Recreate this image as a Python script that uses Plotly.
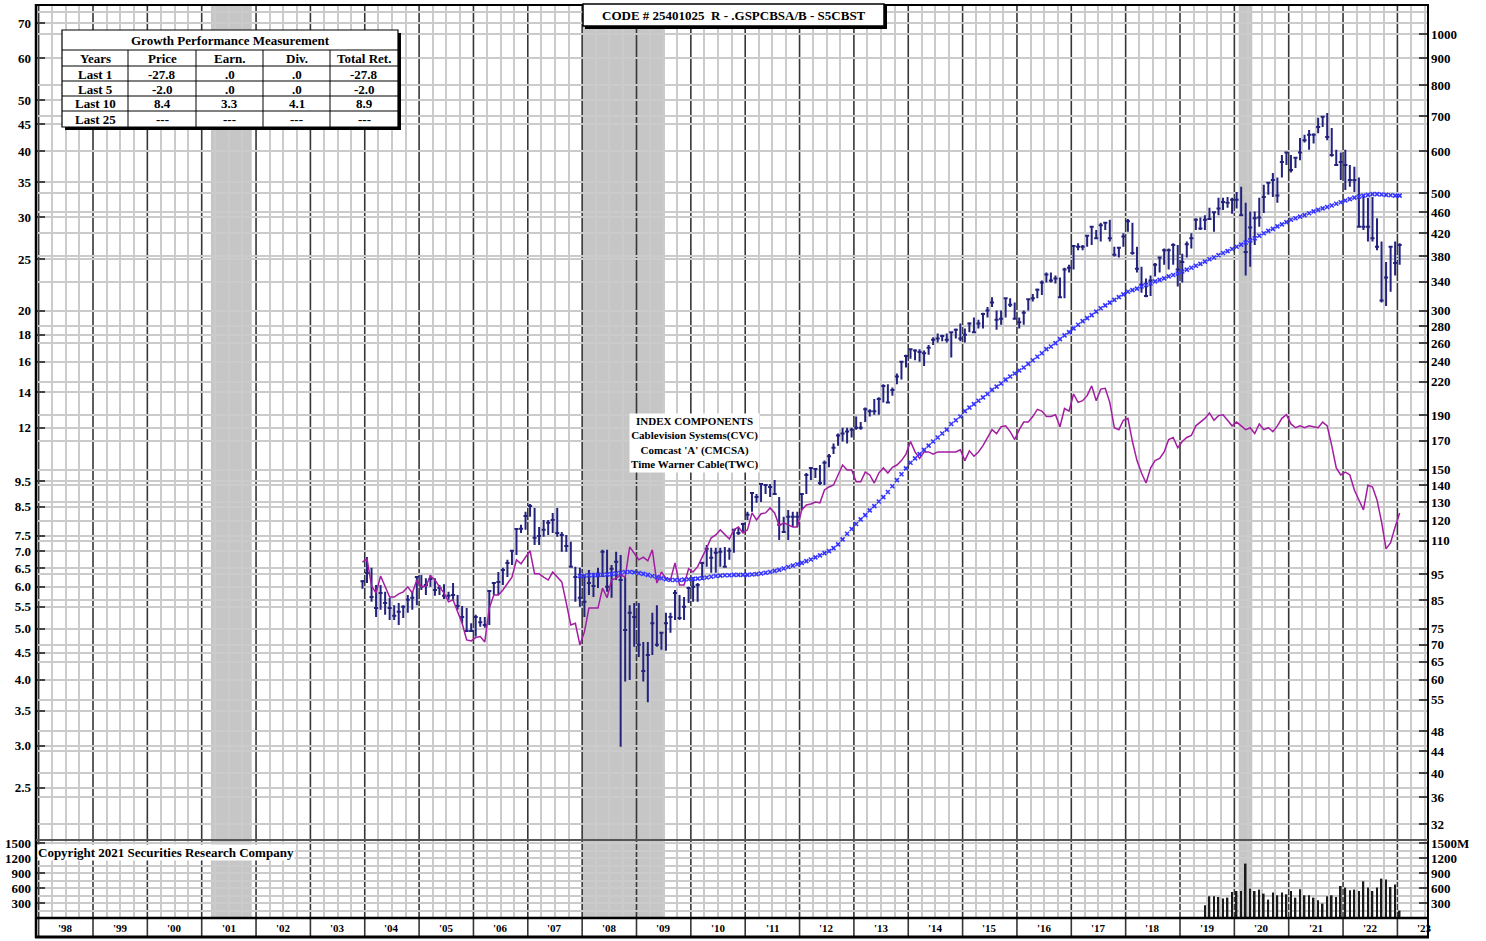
import math
import plotly.graph_objects as go

# ---------------- data ----------------
FIRST_YEAR, FIRST_MONTH = 2003, 12          # first monthly price bar (Dec 2003)

price_high = [
    6.18,
    6.83, 6.52, 6.05, 6.05, 5.87, 5.72, 5.54, 5.59, 5.54, 5.79, 5.87, 6.26,
    6.32, 6.23, 6.32, 6.23, 6.05, 6.07, 5.87, 6.10, 5.79, 5.52, 5.47, 5.12,
    5.31, 5.26, 5.26, 5.92, 6.13, 6.40, 6.52, 6.75, 7.05, 7.73, 7.86, 8.32,
    8.61, 8.46, 7.79, 8.03, 8.03, 8.28, 8.46, 7.62, 7.52, 7.30, 6.55, 6.52,
    6.32, 6.46, 6.38, 6.52, 7.05, 7.05, 6.60, 6.99, 6.89, 6.26, 5.54, 5.59,
    5.59, 4.72, 4.72, 5.36, 5.54, 4.93, 5.36, 5.36, 5.92, 5.79, 5.74, 6.00,
    6.26, 6.10, 6.69, 7.20, 7.11, 7.11, 7.11, 7.14, 7.11, 7.69, 7.76, 7.93,
    8.32, 9.03, 8.99, 9.39, 9.39, 9.39, 9.56, 8.87, 8.14, 8.39, 8.32, 8.32,
    8.99, 9.85, 10.07, 10.07, 10.2, 10.4, 10.7, 11.2, 11.7, 12.0, 12.0, 12.0,
    12.6, 12.3, 13.1, 13.0, 13.6, 13.7, 14.5, 14.5, 14.3, 15.2, 16.0, 16.5,
    16.9, 16.9, 16.9, 16.8, 17.2, 17.8, 18.1, 18.0, 18.1, 18.2, 18.5, 18.9,
    18.5, 19.0, 19.4, 19.2, 19.8, 20.3, 21.2, 20.0, 20.0, 21.1, 21.1, 20.7,
    19.4, 20.0, 21.1, 21.5, 22.0, 22.8, 23.6, 23.6, 23.3, 23.1, 24.1, 24.4,
    26.6, 26.8, 26.6, 27.8, 28.8, 28.4, 29.3, 29.4, 29.7, 26.4, 26.4, 28.0,
    29.8, 29.3, 26.4, 24.2, 23.0, 23.3, 24.6, 25.2, 26.2, 26.2, 26.8, 26.6,
    25.6, 27.0, 28.0, 29.9, 30.0, 30.3, 31.3, 30.7, 32.7, 32.7, 32.8, 32.7,
    33.5, 34.3, 32.0, 30.8, 30.8, 32.7, 34.6, 35.0, 36.4, 35.7, 39.4, 40.0,
    39.4, 39.1, 42.4, 43.0, 43.9, 43.3, 46.3, 46.7, 47.3, 44.3, 40.3, 39.8,
    40.3, 37.7, 37.4, 35.7, 32.8, 32.7, 32.8, 29.9, 27.0, 24.7, 26.4, 27.0,
    26.8,
]
price_low = [
    5.95,
    6.10, 5.62, 5.26, 5.43, 5.31, 5.19, 5.19, 5.08, 5.24, 5.36, 5.43, 5.54,
    5.92, 5.79, 6.00, 5.77, 5.79, 5.69, 5.67, 5.67, 5.43, 5.12, 4.93, 4.93,
    4.83, 5.04, 5.02, 5.08, 5.79, 5.79, 6.05, 6.26, 6.60, 6.89, 7.59, 7.69,
    8.14, 7.20, 7.20, 7.46, 7.52, 7.59, 7.46, 6.99, 6.99, 6.55, 5.62, 5.50,
    5.26, 5.79, 5.74, 5.97, 6.26, 5.87, 5.72, 6.18, 2.99, 3.97, 4.00, 4.62,
    4.42, 3.97, 3.63, 4.46, 4.62, 4.56, 4.54, 4.91, 5.19, 5.19, 5.19, 5.59,
    5.62, 5.62, 6.18, 6.55, 6.38, 6.38, 6.55, 6.52, 6.75, 6.96, 7.52, 7.59,
    8.03, 8.32, 8.65, 8.68, 8.99, 8.87, 8.99, 7.36, 7.59, 7.36, 7.79, 7.79,
    8.39, 8.99, 9.56, 9.64, 9.35, 9.35, 10.1, 10.7, 11.1, 11.3, 11.2, 11.5,
    11.9, 11.9, 12.3, 12.6, 12.7, 12.7, 13.4, 13.4, 13.8, 14.5, 14.8, 15.6,
    16.2, 16.1, 16.0, 15.7, 16.5, 17.2, 17.4, 17.5, 17.4, 16.3, 17.7, 17.5,
    17.4, 18.2, 18.2, 18.5, 18.5, 19.4, 20.3, 18.4, 18.8, 19.4, 20.3, 19.2,
    18.5, 18.8, 20.0, 20.8, 21.1, 21.4, 22.6, 22.6, 22.5, 21.2, 21.1, 23.6,
    23.9, 26.0, 26.0, 26.4, 26.6, 27.4, 27.0, 28.4, 27.0, 25.3, 25.2, 26.4,
    28.2, 25.5, 23.6, 21.6, 21.2, 21.3, 23.2, 23.6, 24.4, 23.9, 24.4, 22.2,
    22.6, 25.2, 26.2, 28.4, 28.4, 28.4, 29.7, 28.2, 30.3, 31.0, 31.3, 30.5,
    31.2, 30.3, 23.3, 24.2, 26.6, 28.8, 30.6, 33.1, 32.8, 32.0, 35.7, 37.7,
    36.5, 37.2, 38.5, 41.6, 40.3, 41.4, 43.3, 44.5, 42.0, 39.1, 37.7, 35.3,
    33.8, 34.3, 33.5, 28.8, 28.4, 27.0, 27.0, 26.0, 20.7, 20.4, 21.7, 23.3,
    24.4,
]
price_close = [
    6.15,
    6.37, 5.74, 5.47, 5.84, 5.59, 5.47, 5.29, 5.38, 5.50, 5.67, 5.72, 6.26,
    6.00, 6.05, 6.21, 5.92, 5.97, 5.77, 5.77, 5.79, 5.52, 5.26, 4.95, 4.95,
    5.26, 5.14, 5.08, 5.89, 6.10, 6.13, 6.46, 6.66, 7.02, 7.72, 7.73, 8.17,
    8.53, 7.43, 7.49, 7.69, 7.93, 8.03, 7.59, 7.52, 7.17, 6.55, 6.26, 5.72,
    5.62, 6.10, 6.02, 6.32, 6.99, 6.00, 6.49, 6.69, 6.18, 4.97, 5.36, 5.26,
    4.66, 4.16, 4.46, 5.12, 4.66, 4.91, 5.12, 5.26, 5.84, 5.24, 5.50, 5.97,
    6.00, 6.05, 6.66, 7.08, 6.81, 6.96, 6.99, 6.55, 7.02, 7.69, 7.59, 7.89,
    8.21, 9.03, 8.87, 9.39, 9.35, 9.27, 8.99, 7.86, 7.62, 8.14, 8.14, 8.14,
    8.99, 9.77, 10.07, 10.03, 9.43, 10.3, 10.6, 11.0, 11.6, 11.7, 11.8, 11.9,
    12.0, 12.0, 13.0, 12.9, 12.9, 13.6, 14.4, 13.4, 14.15, 15.0, 16.0, 16.4,
    16.9, 16.8, 16.7, 16.6, 17.0, 17.6, 17.7, 17.9, 17.6, 18.2, 18.4, 17.7,
    18.0, 18.9, 18.2, 18.9, 19.7, 20.0, 20.7, 19.2, 19.3, 21.1, 20.5, 19.3,
    19.0, 19.8, 21.0, 21.1, 21.9, 22.6, 23.4, 22.8, 23.0, 21.2, 23.9, 24.1,
    26.5, 26.4, 26.4, 27.7, 28.8, 27.4, 29.0, 29.3, 27.4, 25.5, 26.3, 27.6,
    29.5, 25.7, 24.0, 22.4, 21.3, 22.8, 24.4, 25.2, 26.0, 26.0, 26.6, 23.9,
    24.7, 26.7, 27.4, 29.7, 28.6, 29.7, 29.8, 30.7, 31.2, 32.1, 32.0, 32.4,
    32.4, 30.3, 25.8, 28.7, 29.9, 30.0, 32.8, 34.9, 35.3, 33.0, 38.2, 39.8,
    36.9, 38.9, 39.8, 42.0, 43.0, 43.0, 44.5, 46.5, 42.6, 39.4, 37.7, 38.2,
    37.7, 35.3, 35.3, 28.8, 28.8, 28.8, 27.4, 26.4, 20.9, 23.1, 26.4, 24.6,
    26.6,
]
# relative-strength line (magenta), same months as the price bars
rel_strength = [
    6.68,
    6.78, 6.02, 5.84, 6.29, 6.00, 5.74, 5.74, 5.82, 5.87, 6.00, 5.84, 6.18,
    6.00, 6.02, 6.29, 6.18, 6.00, 5.84, 5.62, 5.67, 5.38, 5.12, 4.76, 4.74,
    4.81, 4.83, 4.72, 5.47, 5.79, 5.79, 5.92, 6.10, 6.26, 6.75, 6.63, 6.83,
    7.02, 6.35, 6.35, 6.26, 6.18, 6.40, 6.26, 6.13, 5.59, 5.08, 5.12, 4.66,
    4.93, 5.47, 5.47, 5.47, 5.97, 5.72, 6.18, 6.23, 6.32, 6.26, 7.14, 6.96,
    6.75, 6.83, 6.72, 7.05, 6.10, 6.40, 6.23, 6.18, 6.66, 6.05, 6.05, 6.49,
    6.40, 6.55, 6.81, 7.11, 7.43, 7.52, 7.69, 7.52, 7.39, 7.69, 7.79, 7.59,
    7.69, 8.28, 8.03, 8.25, 8.28, 8.46, 8.28, 7.83, 7.93, 7.86, 7.79, 7.79,
    8.39, 8.57, 8.61, 8.68, 8.65, 9.15, 9.27, 9.35, 9.77, 10.2, 9.98, 9.98,
    9.48, 9.48, 9.89, 9.77, 9.43, 9.85, 10.07, 9.85, 10.1, 10.2, 10.4, 10.7,
    11.3, 10.8, 10.5, 10.8, 10.8, 10.7, 10.8, 10.8, 10.8, 10.8, 10.8, 10.9,
    10.4, 10.85, 10.6, 10.8, 11.1, 11.5, 11.9, 11.7, 12.05, 12.1, 11.8, 11.4,
    11.9, 12.3, 12.3, 12.6, 13.0, 12.9, 12.6, 12.6, 12.7, 12.05, 13.05, 12.9,
    13.9, 13.4, 13.5, 13.8, 14.4, 13.5, 14.2, 14.25, 13.4, 12.0, 11.9, 12.4,
    12.5, 11.3, 10.4, 9.85, 9.43, 10.07, 10.4, 10.5, 10.8, 11.4, 11.5, 11.0,
    11.3, 11.5, 11.6, 12.1, 12.3, 12.5, 12.8, 12.4, 12.65, 12.7, 12.4, 12.1,
    12.3, 12.1, 11.9, 12.0, 11.7, 12.2, 11.9, 12.0, 11.8, 12.1, 12.5, 12.7,
    12.2, 12.0, 12.1, 12.0, 12.1, 12.05, 12.0, 12.3, 12.1, 11.1, 10.07, 9.77,
    9.89, 9.77, 9.15, 8.76, 8.39, 9.35, 9.27, 8.76, 7.96, 7.08, 7.27, 7.79,
    8.28,
]

MA_YEAR, MA_MONTH = 2007, 12                 # first moving-average point
moving_avg = [
    6.29,
    6.30, 6.31, 6.31, 6.32, 6.32, 6.33, 6.34, 6.36, 6.38, 6.40, 6.40, 6.39,
    6.37, 6.35, 6.32, 6.29, 6.26, 6.23, 6.20, 6.18, 6.18, 6.18, 6.19, 6.20,
    6.21, 6.22, 6.23, 6.25, 6.27, 6.29, 6.30, 6.31, 6.31, 6.32, 6.32, 6.32,
    6.32, 6.33, 6.34, 6.36, 6.38, 6.40, 6.43, 6.46, 6.50, 6.54, 6.58, 6.62,
    6.66, 6.71, 6.76, 6.82, 6.88, 6.95, 7.01, 7.10, 7.22, 7.38, 7.56, 7.72,
    7.89, 8.05, 8.20, 8.37, 8.53, 8.70, 8.87, 9.07, 9.30, 9.55, 9.80, 10.05,
    10.3, 10.5, 10.7, 10.9, 11.1, 11.3, 11.5, 11.7, 11.9, 12.2, 12.4, 12.6,
    12.9, 13.1, 13.3, 13.5, 13.7, 13.9, 14.15, 14.35, 14.55, 14.8, 15.0, 15.2,
    15.4, 15.6, 15.85, 16.1, 16.35, 16.6, 16.9, 17.1, 17.35, 17.65, 17.95, 18.2,
    18.5, 18.8, 19.1, 19.35, 19.6, 19.9, 20.2, 20.45, 20.7, 20.95, 21.2, 21.45,
    21.7, 21.85, 22.0, 22.2, 22.35, 22.5, 22.7, 22.85, 23.0, 23.2, 23.35, 23.5,
    23.7, 23.9, 24.1, 24.3, 24.5, 24.75, 25.0, 25.2, 25.45, 25.7, 25.9, 26.15,
    26.4, 26.65, 26.9, 27.15, 27.4, 27.7, 28.0, 28.3, 28.55, 28.85, 29.1, 29.4,
    29.7, 29.9, 30.1, 30.3, 30.55, 30.8, 31.0, 31.2, 31.4, 31.6, 31.85, 32.05,
    32.3, 32.5, 32.7, 32.85, 33.0, 33.1, 33.2, 33.2, 33.15, 33.1, 33.05, 33.0,
    33.0,
]

VOL_YEAR, VOL_MONTH = 2019, 6                # first volume bar
volume_m = [
    254, 434, 434, 420, 388, 408, 520,
    540, 540, 1088, 588, 540, 568, 488, 368, 508, 454, 508, 474,
    540, 408, 574, 454, 454, 408, 354, 288, 434, 454, 420, 640,
    608, 554, 568, 540, 734, 608, 540, 608, 788, 768, 620, 668,
    148,
]

recessions = [(2001.17, 2001.92), (2008.0, 2009.5), (2020.08, 2020.33)]
label_years = list(range(1998, 2024))

left_ticks = [2.5, 3.0, 3.5, 4.0, 4.5, 5.0, 5.5, 6.0, 6.5, 7.0, 7.5, 8.5, 9.5,
              12, 14, 16, 18, 20, 25, 30, 35, 40, 45, 50, 60, 70]
right_ticks = [32, 36, 40, 44, 48, 55, 60, 65, 70, 75, 85, 95, 110, 120, 130,
               140, 150, 170, 190, 220, 240, 260, 280, 300, 340, 380, 420, 460,
               500, 600, 700, 800, 900, 1000]
RIGHT_FACTOR = 15
extra_grid_right = [1100]
vol_ticks = [300, 600, 900, 1200, 1500]

table_title = "Growth Performance Measurement"
table_header = ["Years", "Price", "Earn.", "Div.", "Total Ret."]
table_rows = [
    ["Last 1", "-27.8", ".0", ".0", "-27.8"],
    ["Last 5", "-2.0", ".0", ".0", "-2.0"],
    ["Last 10", "8.4", "3.3", "4.1", "8.9"],
    ["Last 25", "---", "---", "---", "---"],
]
chart_title = "CODE # 25401025  R - .GSPCBSA/B - S5CBST"
components = ["INDEX COMPONENTS", "Cablevision Systems(CVC)",
              "Comcast 'A' (CMCSA)", "Time Warner Cable(TWC)"]
copyright_text = "Copyright 2021 Securities Research Company"

# ---------------- helpers ----------------
def month_positions(y0, m0, n):
    out = []
    y, m = y0, m0
    for _ in range(n):
        out.append(y + (m - 0.5) / 12.0)
        m += 1
        if m > 12:
            m = 1
            y += 1
    return out

W, H = 1486, 941
ML, MR, MT, MB = 36, 58, 5, 4
PW, PH = W - ML - MR, H - MT - MB

def fx(px):
    return (px - ML) / PW

def fy(py):
    return (H - MB - py) / PH

X0 = 1999 - 57 / 54.35
X1 = 1999 + 1335 / 54.35
price_dom = [fy(840), 1.0]
vol_dom = [fy(918), fy(840)]
LOG_LO, LOG_HI = 0.2991, 1.8791
R_OFF = math.log10(RIGHT_FACTOR)

FONT = "Liberation Serif"
NAVY = "#23237f"
MAGENTA = "#a31ca3"
BLUE = "#3535ff"
GRID = "#cbcbcb"

def fmt_left(v):
    return str(int(v)) if v >= 10 else f"{v:.1f}"

# ---------------- traces ----------------
px_x = month_positions(FIRST_YEAR, FIRST_MONTH, len(price_close))
ma_x = month_positions(MA_YEAR, MA_MONTH, len(moving_avg))
vol_x = month_positions(VOL_YEAR, VOL_MONTH, len(volume_m))

fig = go.Figure()
fig.add_trace(go.Scatter(x=px_x, y=rel_strength, mode="lines",
                         line=dict(color=MAGENTA, width=1.5),
                         xaxis="x", yaxis="y", hoverinfo="skip"))
fig.add_trace(go.Scatter(x=ma_x, y=moving_avg, mode="markers",
                         marker=dict(symbol="x-thin", size=4,
                                     line=dict(color=BLUE, width=1.6)),
                         xaxis="x", yaxis="y", hoverinfo="skip"))
fig.add_trace(go.Ohlc(x=px_x, open=price_close, high=price_high,
                      low=price_low, close=price_close, tickwidth=0.45,
                      increasing=dict(line=dict(color=NAVY, width=2)),
                      decreasing=dict(line=dict(color=NAVY, width=2)),
                      xaxis="x", yaxis="y", hoverinfo="skip"))
fig.add_trace(go.Bar(x=vol_x, y=volume_m, width=0.03,
                     marker=dict(color="#1a1a1a", line=dict(width=0)),
                     xaxis="x", yaxis="y2", hoverinfo="skip"))
# carriers for the right-hand axes
fig.add_trace(go.Scatter(x=[X0], y=[100], mode="markers", opacity=0,
                         xaxis="x", yaxis="y3", hoverinfo="skip"))
fig.add_trace(go.Scatter(x=[X0], y=[100], mode="markers", opacity=0,
                         xaxis="x", yaxis="y4", hoverinfo="skip"))

tickfont = dict(family=FONT, size=13, color="black", weight="bold")
quarters = [y + q / 4 for y in range(1997, 2025) for q in (1, 2, 3)]

fig.update_layout(
    width=W, height=H, showlegend=False,
    margin=dict(l=ML, r=MR, t=MT, b=MB, pad=0, autoexpand=False),
    paper_bgcolor="white", plot_bgcolor="white",
    xaxis=dict(range=[X0, X1], anchor="y2", showticklabels=False, ticks="",
               tickmode="array", tickvals=quarters, showgrid=True,
               gridcolor=GRID, gridwidth=1.5, zeroline=False, showline=False,
               rangeslider=dict(visible=False), fixedrange=True,
               automargin=False),
    yaxis=dict(type="log", range=[LOG_LO, LOG_HI], domain=price_dom,
               anchor="x", side="left", tickmode="array",
               tickvals=left_ticks, ticktext=[fmt_left(v) for v in left_ticks],
               ticks="inside", ticklen=9, tickwidth=1.5, tickcolor="#444",
               tickfont=tickfont, showgrid=True, gridcolor=GRID,
               gridwidth=1.5, zeroline=False, showline=False, automargin=False,
               ticklabelstandoff=4,
               minor=dict(tickmode="array",
                          tickvals=[v / RIGHT_FACTOR for v in right_ticks + extra_grid_right],
                          showgrid=True, gridcolor=GRID, gridwidth=1.5,
                          ticks="")),
    yaxis3=dict(type="log", range=[LOG_LO + R_OFF, LOG_HI + R_OFF],
                overlaying="y", anchor="x", side="right", tickmode="array",
                tickvals=right_ticks, ticktext=[str(v) for v in right_ticks],
                ticks="inside", ticklen=9, tickwidth=1.5, tickcolor="#444",
                tickfont=tickfont, showgrid=False, zeroline=False,
                showline=False, automargin=False, ticklabelstandoff=2),
    yaxis2=dict(range=[0, 1560], domain=vol_dom, anchor="x", side="left",
                tickmode="array", tickvals=vol_ticks,
                ticktext=[str(v) for v in vol_ticks], ticks="inside",
                ticklen=9, tickwidth=1.5, tickcolor="#444", tickfont=tickfont,
                showgrid=True, gridcolor=GRID, gridwidth=1.5, zeroline=False,
                showline=False, automargin=False, ticklabelstandoff=4,
                minor=dict(tickmode="array", tickvals=[150, 450, 750, 1050, 1350],
                           showgrid=True, gridcolor=GRID, gridwidth=1.5,
                           ticks="")),
    yaxis4=dict(range=[0, 1560], overlaying="y2", anchor="x", side="right",
                tickmode="array", tickvals=vol_ticks,
                ticktext=[str(v) if v < 1500 else f"{v}M" for v in vol_ticks],
                ticks="inside", ticklen=9, tickwidth=1.5, tickcolor="#444",
                tickfont=tickfont, showgrid=False, zeroline=False,
                showline=False, automargin=False, ticklabelstandoff=2),
)

shapes = []
# recession bands (above grid, below traces)
for a, b in recessions:
    shapes.append(dict(type="rect", xref="x", yref="paper", x0=a, x1=b,
                       y0=fy(918), y1=1.0, fillcolor="#c6c6c6",
                       line=dict(width=0), layer="between"))
# year separator lines
for yr in range(1998, 2024):
    shapes.append(dict(type="line", xref="x", yref="paper", x0=yr, x1=yr,
                       y0=0, y1=1, line=dict(color="#363636", width=1.6),
                       layer="between"))

def pline(x0, y0, x1, y1, color="black", width=2):
    shapes.append(dict(type="line", xref="paper", yref="paper",
                       x0=fx(x0), y0=fy(y0), x1=fx(x1), y1=fy(y1),
                       line=dict(color=color, width=width), layer="above"))

def prect(x0, y0, x1, y1, fill="white", color="black", width=1):
    shapes.append(dict(type="rect", xref="paper", yref="paper",
                       x0=fx(x0), y0=fy(y0), x1=fx(x1), y1=fy(y1),
                       fillcolor=fill, line=dict(color=color, width=width),
                       layer="above"))

# frame
pline(36, 5, 1428, 5, width=2)
pline(36, 4, 36, 938, width=2.5)
pline(1428, 4, 1428, 938, width=2)
pline(36, 840, 1428, 840, color="#555", width=2)
pline(36, 918, 1428, 918, width=2.5)
pline(35, 937, 1429, 937, width=3)

# title box
prect(585, 6, 887, 29, fill="black", width=0)
prect(583, 4, 884, 26, fill="white", color="black", width=1.5)

# growth table
TX = [62, 128, 196, 263, 330, 398]
TY = [30, 50, 66, 81, 96, 111, 127]
prect(65, 33, 401, 130, fill="black", width=0)
prect(TX[0], TY[0], TX[-1], TY[-1], fill="white", color="black", width=1.2)
for yy in TY[1:-1]:
    pline(TX[0], yy, TX[-1], yy, width=1)
for xx in TX[1:-1]:
    pline(xx, TY[1], xx, TY[-1], width=1)

fig.update_layout(shapes=shapes)

ann = []
def text(px, py, s, size=12, xanchor="center", bg=None):
    d = dict(xref="paper", yref="paper", x=fx(px), y=fy(py), text=s,
             showarrow=False, xanchor=xanchor, yanchor="middle",
             font=dict(family=FONT, size=size, color="black", weight="bold"))
    if bg:
        d.update(bgcolor=bg, borderpad=0)
    ann.append(d)

text(734, 15.5, chart_title, size=13)
text((TX[0] + TX[-1]) / 2, 40.5, table_title, size=13)
for i, h in enumerate(table_header):
    text((TX[i] + TX[i + 1]) / 2, 58.5, h, size=13)
for r, row in enumerate(table_rows):
    for i, cell in enumerate(row):
        text((TX[i] + TX[i + 1]) / 2, (TY[r + 2] + TY[r + 3]) / 2 + 0.5, cell, size=13)

ann.append(dict(xref="paper", yref="paper", x=fx(694), y=fy(443),
                text="<br>".join(components), showarrow=False,
                xanchor="center", yanchor="middle", align="center",
                bgcolor="white", borderpad=1,
                font=dict(family=FONT, size=11, color="black", weight="bold")))
text(37, 852, copyright_text, size=13, xanchor="left", bg="white")

for yr in label_years:
    lab = "'" + str(yr)[2:]
    ann.append(dict(xref="paper", yref="paper", x=fx(93 + (yr - 1999 + 0.5) * 54.35),
                    y=fy(927.5), text=lab,
                    showarrow=False, xanchor="center", yanchor="middle",
                    font=dict(family=FONT, size=11, color="black", weight="bold")))

fig.update_layout(annotations=ann)
fig.write_html("out.html", config={"displayModeBar": False},
               post_script="document.body.style.margin='0px';"
                           "document.body.style.overflow='hidden';")
